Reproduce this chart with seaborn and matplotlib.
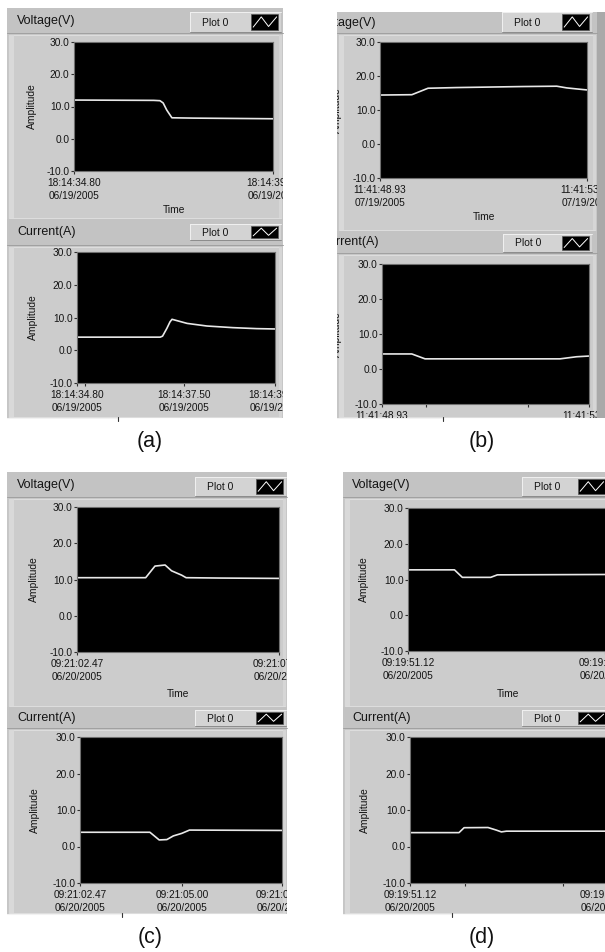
import numpy as np
import pandas as pd
import matplotlib
matplotlib.use("Agg")
import matplotlib.pyplot as plt
import seaborn as sns
from matplotlib.patches import Rectangle
from matplotlib.transforms import Bbox, TransformedBbox

# ---------------- data (time in s from the left edge of each graph) -------------
A_V_T = [0.0, 2.00, 2.16, 2.24, 2.33, 2.46, 3.0, 4.0, 5.0]
A_V_Y = [12.0, 11.9, 11.8, 11.1, 8.9, 6.5, 6.4, 6.3, 6.2]
A_I_T = [0.0, 2.10, 2.16, 2.27, 2.35, 2.40, 2.78, 3.28, 3.94, 4.54, 5.0]
A_I_Y = [4.0, 4.0, 4.3, 6.7, 8.7, 9.45, 8.2, 7.4, 6.9, 6.6, 6.5]

B_V_T = [0.0, 0.77, 1.16, 1.85, 3.45, 4.27, 4.51, 4.75, 5.0]
B_V_Y = [14.4, 14.5, 16.4, 16.6, 16.9, 17.0, 16.5, 16.2, 15.9]
B_I_T = [0.0, 0.72, 1.04, 4.30, 4.70, 5.0]
B_I_Y = [4.3, 4.3, 2.9, 2.9, 3.5, 3.7]

C_V_T = [0.0, 1.70, 1.93, 2.18, 2.34, 2.59, 2.70, 3.54, 5.0]
C_V_Y = [10.5, 10.5, 13.7, 14.0, 12.4, 11.2, 10.5, 10.4, 10.3]
C_I_T = [0.0, 1.73, 1.96, 2.15, 2.31, 2.52, 2.71, 5.0]
C_I_Y = [3.9, 3.9, 1.8, 1.9, 2.9, 3.6, 4.5, 4.4]

D_V_T = [0.0, 1.18, 1.38, 2.10, 2.27, 5.0]
D_V_Y = [12.7, 12.7, 10.6, 10.6, 11.3, 11.4]
D_I_T = [0.0, 1.25, 1.38, 1.99, 2.20, 2.33, 2.46, 5.0]
D_I_Y = [3.8, 3.8, 5.15, 5.2, 4.5, 4.0, 4.2, 4.2]

Y_TICKS = [-10, 0, 10, 20, 30]
Y_TICK_LABELS = ["-10.0", "0.0", "10.0", "20.0", "30.0"]

A_V_TICKS = [0.0, 5.0]
A_V_LABELS = ["18:14:34.80\n06/19/2005", "18:14:39.80\n06/19/2005"]
A_I_TICKS = [0.0, 0.2, 2.7, 5.0]
A_I_LABELS = ["18:14:34.80\n06/19/2005", "", "18:14:37.50\n06/19/2005", "18:14:39.80\n06/19/2005"]
B_V_TICKS = [0.0, 5.0]
B_V_LABELS = ["11:41:48.93\n07/19/2005", "11:41:53.93\n07/19/2005"]
B_I_TICKS = [0.0, 1.06, 3.53, 5.0]
B_I_LABELS = ["11:41:48.93\n07/19/2005", "", "", "11:41:53.93\n07/19/2005"]
C_V_TICKS = [0.0, 5.0]
C_V_LABELS = ["09:21:02.47\n06/20/2005", "09:21:07.47\n06/20/2005"]
C_I_TICKS = [0.0, 2.53, 5.0]
C_I_LABELS = ["09:21:02.47\n06/20/2005", "09:21:05.00\n06/20/2005", "09:21:07.47\n06/20/2005"]
D_V_TICKS = [0.0, 5.0]
D_V_LABELS = ["09:19:51.12\n06/20/2005", "09:19:56.12\n06/20/2005"]
D_I_TICKS = [0.0, 1.4, 3.89, 5.0]
D_I_LABELS = ["09:19:51.12\n06/20/2005", "", "", "09:19:56.12\n06/20/2005"]

SUB_LABELS = ["(a)", "(b)", "(c)", "(d)"]

# ---------------- figure ---------------------------------------------------------
sns.set_theme(style="white")
plt.rcParams['font.family'] = ['Liberation Sans', 'DejaVu Sans']

W, H = 605, 952
fig = plt.figure(figsize=(W / 100, H / 100), dpi=100)
fig.patch.set_facecolor('white')
bg = fig.add_axes([0, 0, 1, 1], zorder=0)
bg.set_xlim(0, W)
bg.set_ylim(H, 0)
bg.axis('off')


def rect(x0, y0, x1, y1, **kw):
    p = Rectangle((x0, y0), x1 - x0, y1 - y0, **kw)
    bg.add_patch(p)
    return p


def clipbox(x0, y0, x1, y1):
    return TransformedBbox(Bbox.from_extents(x0 / W, 1 - y1 / H, x1 / W, 1 - y0 / H),
                           fig.transFigure)


TXT = '#141414'


def block(panel, strip_bottom, title, title_x, legend, axes_px, t, y,
          ticks, labels, xlabel, xmax=5.0, notch=None, time_off=35, ylab_off=38):
    px0, py0, px1, py1 = panel
    cb = clipbox(px0, py0, px1, py1)
    rect(px0, py0, px1, py1, facecolor='#c6c6c6', edgecolor='none')
    rect(px0, py0, px1, strip_bottom, facecolor='#c3c3c3', edgecolor='none')
    bg.plot([px0, px1], [strip_bottom, strip_bottom], color='#a0a0a0', lw=0.7)
    rect(px0 + 2, strip_bottom + 2, px1 - 2, py1 - 1, facecolor='#cccccc',
         edgecolor='#dddddd', lw=0.8)
    rect(px0 + 2, strip_bottom + 2, px0 + 7, py1 - 1, facecolor='#d9d9d9', edgecolor='none')
    rect(px1 - 4, strip_bottom + 2, px1 - 1, py1 - 1, facecolor='#d6d6d6', edgecolor='none')
    tt = bg.text(title_x, (py0 + strip_bottom) / 2 + 0.5, title, fontsize=9, va='center',
                 ha='left', color=TXT)
    tt.set_clip_box(cb)
    tt.set_clip_on(True)
    # legend box "Plot 0"
    lx0, ly0, lx1, ly1 = legend
    rect(lx0, ly0, lx1, ly1, facecolor='#d3d3d3', edgecolor='none')
    bg.plot([lx0, lx1], [ly0, ly0], color='#f0f0f0', lw=0.7)
    bg.plot([lx0, lx0], [ly0, ly1], color='#f0f0f0', lw=0.7)
    bg.plot([lx0, lx1], [ly1, ly1], color='#8c8c8c', lw=0.7)
    bg.text(lx0 + 12, (ly0 + ly1) / 2 + 0.5, "Plot 0", fontsize=7.4, va='center',
            ha='left', color=TXT)
    ix1 = lx1 - 3
    ix0 = ix1 - 27
    iy0, iy1 = ly0 + 2, ly1 - 2
    rect(ix0, iy0, ix1, iy1, facecolor='black', edgecolor='#555555', lw=0.5)
    zx = [0.08, 0.38, 0.65, 0.95]
    zy = [0.82, 0.18, 0.78, 0.18]
    bg.plot([ix0 + v * (ix1 - ix0) for v in zx], [iy0 + v * (iy1 - iy0) for v in zy],
            color='white', lw=0.7)
    if notch is not None:
        bg.plot([px0, notch], [py1, py1], color='#f2f2f2', lw=0.8)
        bg.plot([notch, notch], [py1 - 1, py1 + 3], color='#333333', lw=0.8)

    ax0, ay0, ax1, ay1 = axes_px
    ax = fig.add_axes([ax0 / W, 1 - ay1 / H, (ax1 - ax0) / W, (ay1 - ay0) / H], zorder=2)
    ax.set_facecolor('black')
    sns.lineplot(x=t, y=y, ax=ax, color='#e8e8e8', linewidth=1.2)
    ax.set_xlim(0, xmax)
    ax.set_ylim(-10, 30)
    ax.set_yticks(Y_TICKS)
    ax.set_yticklabels(Y_TICK_LABELS)
    ax.set_xticks(ticks)
    ax.set_xticklabels(labels)
    ax.tick_params(axis='both', direction='out', length=2.5, width=0.8, color='#303030',
                   labelsize=7.3, labelcolor=TXT, bottom=True, left=True)
    ax.tick_params(axis='y', pad=0.8)
    ax.tick_params(axis='x', pad=2.8)
    for lbl in ax.get_xticklabels():
        lbl.set_linespacing(1.3)
    ax.set_ylabel("Amplitude", fontsize=7.4, color=TXT)
    ax.yaxis.set_label_coords(-float(ylab_off) / (ax1 - ax0), 0.5)
    ax.set_xlabel(xlabel, fontsize=7.4, color=TXT)
    ax.xaxis.set_label_coords(0.5, -float(time_off) / (ay1 - ay0))
    for s in ax.spines.values():
        s.set_color('#707070')
        s.set_linewidth(0.8)
    for tk in ax.xaxis.get_major_ticks() + ax.yaxis.get_major_ticks():
        for a in (tk.label1, tk.tick1line):
            a.set_clip_box(cb)
            a.set_clip_on(True)
    for lab in (ax.xaxis.label, ax.yaxis.label):
        lab.set_clip_box(cb)
        lab.set_clip_on(True)
    return ax


# (a)
block((7, 8, 283, 219), 33, "Voltage(V)", 17, (190, 12, 281, 32), (74, 42, 273, 171),
      A_V_T, A_V_Y, A_V_TICKS, A_V_LABELS, "Time", time_off=34, ylab_off=37)
block((7, 219, 283, 418), 245, "Current(A)", 17, (190, 224, 281, 240), (77, 252, 275, 383),
      A_I_T, A_I_Y, A_I_TICKS, A_I_LABELS, "", notch=118, ylab_off=39)
# (b)
block((337, 12, 597, 231), 33, "Voltage(V)", 318, (502, 12, 592, 32), (380, 42, 587, 178),
      B_V_T, B_V_Y, B_V_TICKS, B_V_LABELS, "Time", time_off=34, ylab_off=38)
block((337, 231, 597, 418), 253, "Current(A)", 320, (503, 234, 592, 252), (382, 264, 589, 404),
      B_I_T, B_I_Y, B_I_TICKS, B_I_LABELS, "", notch=443, ylab_off=40)
rect(597, 12, 605, 418, facecolor='#a9a9a9', edgecolor='none')
# (c)
block((7, 472, 287, 707), 497, "Voltage(V)", 17, (195, 477, 286, 496), (77, 507, 279, 652),
      C_V_T, C_V_Y, C_V_TICKS, C_V_LABELS, "Time", time_off=37, ylab_off=38)
block((7, 707, 287, 914), 728, "Current(A)", 17, (195, 710, 286, 726), (80, 737, 282, 883),
      C_I_T, C_I_Y, C_I_TICKS, C_I_LABELS, "", notch=122, ylab_off=40)
# (d)
block((343, 472, 610, 707), 497, "Voltage(V)", 352, (522, 477, 608, 496), (408, 508, 608, 651),
      D_V_T, D_V_Y, D_V_TICKS, D_V_LABELS, "Time", xmax=5.08, time_off=38, ylab_off=39)
block((343, 707, 610, 914), 728, "Current(A)", 352, (522, 710, 608, 726), (410, 737, 608, 883),
      D_I_T, D_I_Y, D_I_TICKS, D_I_LABELS, "", xmax=5.05, notch=452, ylab_off=40)

for lab, (x, y) in zip(SUB_LABELS, [(150, 441), (482, 441), (150, 938), (482, 938)]):
    bg.text(x, y, lab, fontsize=15.5, ha='center', va='center', color='#111111')

fig.savefig("out.png", dpi=100)
